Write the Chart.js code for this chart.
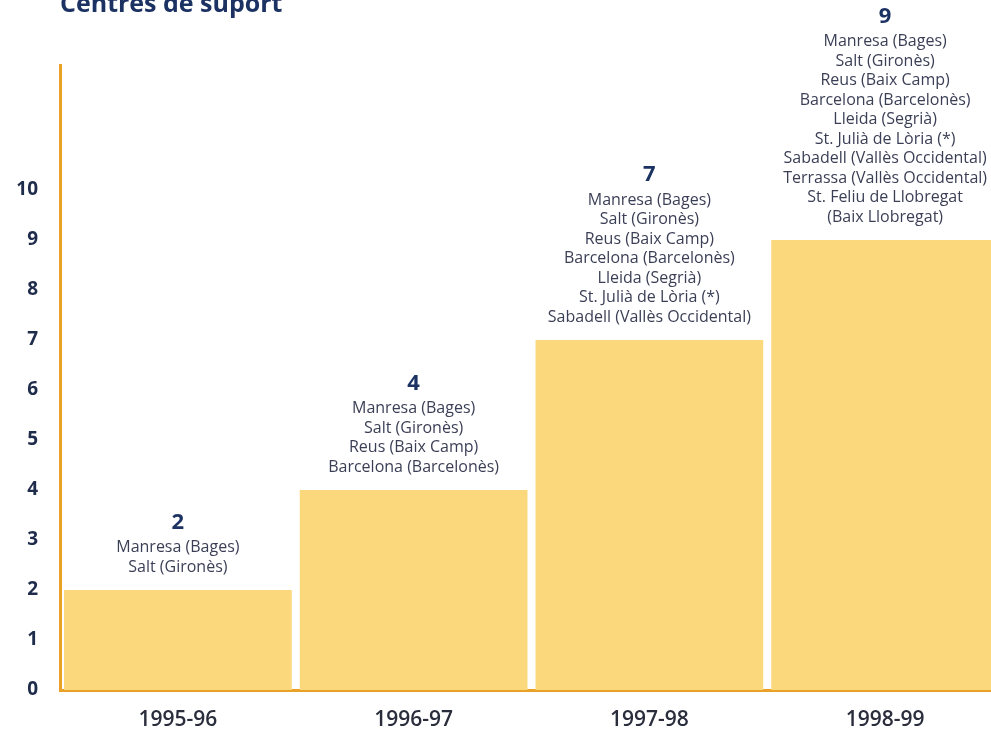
<!DOCTYPE html>
<html>
<head>
<meta charset="utf-8">
<script src="https://cdn.jsdelivr.net/npm/chart.js@4"></script>
<style>
  body { margin: 0; background: #fff; }
  #wrap { width: 991px; height: 739px; overflow: hidden; position: relative; }
</style>
</head>
<body>
<div id="wrap">
  <canvas id="myBarChart" width="1003" height="739"></canvas>
</div>
<script>
// Dades del gràfic
var categories = ['1995-96', '1996-97', '1997-98', '1998-99'];
var centreCounts = [2, 4, 7, 9];
var centreNames = [
    ['Manresa (Bages)', 'Salt (Gironès)'],
    ['Manresa (Bages)', 'Salt (Gironès)', 'Reus (Baix Camp)', 'Barcelona (Barcelonès)'],
    ['Manresa (Bages)', 'Salt (Gironès)', 'Reus (Baix Camp)', 'Barcelona (Barcelonès)',
     'Lleida (Segrià)', 'St. Julià de Lòria (*)', 'Sabadell (Vallès Occidental)'],
    ['Manresa (Bages)', 'Salt (Gironès)', 'Reus (Baix Camp)', 'Barcelona (Barcelonès)',
     'Lleida (Segrià)', 'St. Julià de Lòria (*)', 'Sabadell (Vallès Occidental)',
     'Terrassa (Vallès Occidental)', 'St. Feliu de Llobregat', '(Baix Llobregat)']
];
var yTickMax = 10;
var chartTitle = 'Centres de suport';

var navy = '#1c3262';
var orange = '#e9a227';

// Textos sobre cada barra
var barLabels = {
    id: 'barLabels',
    afterDatasetsDraw: function (chart) {
        var ctx = chart.ctx;
        var meta = chart.getDatasetMeta(0);
        meta.data.forEach(function (bar, i) {
            var names = centreNames[i];
            var lineH = 19.5;
            var bottomY = bar.y - 23;
            ctx.save();
            ctx.textAlign = 'center';
            ctx.textBaseline = 'middle';
            ctx.font = '16px "Open Sans"';
            ctx.fillStyle = '#3b3f56';
            for (var j = 0; j < names.length; j++) {
                ctx.fillText(names[j], bar.x, bottomY - (names.length - 1 - j) * lineH);
            }
            var topY = bottomY - (names.length - 1) * lineH;
            ctx.font = 'bold 22px "Open Sans"';
            ctx.fillStyle = navy;
            ctx.fillText(String(centreCounts[i]), bar.x, topY - 25);
            ctx.restore();
        });
    }
};

// Títol (tallat a dalt, com a l'original)
var topTitle = {
    id: 'topTitle',
    afterDraw: function (chart) {
        var ctx = chart.ctx;
        ctx.save();
        ctx.font = 'bold 25px "Open Sans"';
        ctx.fillStyle = navy;
        ctx.textAlign = 'left';
        ctx.textBaseline = 'alphabetic';
        ctx.fillText(chartTitle, 60, 12);
        ctx.restore();
    }
};

var ctx = document.getElementById('myBarChart').getContext('2d');
var myBarChart = new Chart(ctx, {
    type: 'bar',
    data: {
        labels: categories,
        datasets: [{
            data: centreCounts,
            backgroundColor: '#fbd87c',
            borderWidth: 0,
            barPercentage: 0.966,
            categoryPercentage: 1
        }]
    },
    options: {
        responsive: false,
        animation: false,
        layout: { padding: { top: 65, left: 14, right: 0, bottom: 8 } },
        plugins: {
            legend: { display: false },
            tooltip: { enabled: false }
        },
        scales: {
            x: {
                grid: { display: false, drawTicks: false },
                border: { color: orange, width: 3 },
                afterFit: function (scale) { scale.height = 41; },
                ticks: {
                    color: '#2a2d3c',
                    padding: 17,
                    font: { family: 'Open Sans', size: 21, weight: '600' }
                }
            },
            y: {
                min: 0,
                max: 12.5,
                grid: { display: false, drawTicks: false },
                border: { color: orange, width: 3 },
                afterFit: function (scale) { scale.width = 46; },
                ticks: {
                    stepSize: 1,
                    color: '#1f2b4a',
                    padding: 22,
                    font: { family: 'Open Sans', size: 19, weight: 'bold' },
                    callback: function (v) { return v <= yTickMax ? v : ''; }
                }
            }
        }
    },
    plugins: [barLabels, topTitle]
});
</script>
</body>
</html>
